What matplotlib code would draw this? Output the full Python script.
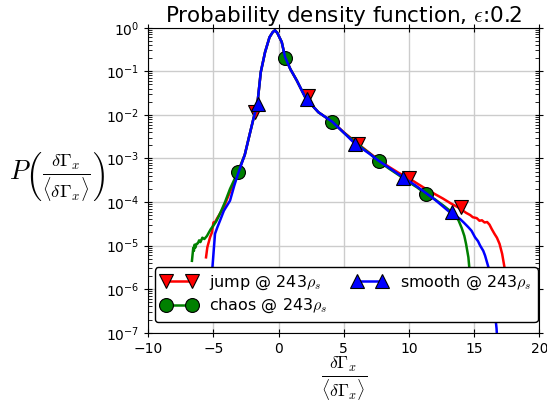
import numpy as np
import matplotlib
matplotlib.use("Agg")
import matplotlib.pyplot as plt
from matplotlib.lines import Line2D

plt.rcParams['mathtext.fontset'] = 'cm'
plt.rcParams['font.family'] = ['DejaVu Sans']

# ---- data (x, log10 of PDF) ----
jump_x = [-5.57, -5.47, -5.26, -5.12, -5.0, -4.85, -4.71, -4.4, -4.15, -3.94, -3.5, -3.1, -2.6, -2.2,
          -1.9, -1.63, -1.37, -1.04, -0.7, -0.45, -0.28, -0.1, 0.24, 0.49, 0.9, 1.39, 2.08, 3.05,
          4.12, 5.0, 6.1, 7.0, 7.7, 8.5, 9.2, 9.97, 10.6, 11.3, 12.0, 12.6, 13.2, 13.75, 14.1,
          14.39, 14.7, 14.9, 15.2, 15.41, 15.6, 15.8, 16.0, 16.18, 16.35, 16.56, 16.75, 16.95,
          17.15, 17.33, 17.42]
jump_log = [-5.27, -5.04, -4.81, -4.70, -4.47, -4.45, -4.37, -4.22, -4.08, -3.92, -3.60, -3.31,
            -2.92, -2.42, -2.05, -1.75, -1.02, -0.56, -0.22, -0.10, -0.06, -0.12, -0.33, -0.67,
            -0.95, -1.21, -1.62, -1.94, -2.16, -2.40, -2.67, -2.88, -3.04, -3.20, -3.33, -3.45,
            -3.57, -3.70, -3.82, -3.92, -4.03, -4.12, -4.19, -4.25, -4.30, -4.35, -4.37, -4.43,
            -4.42, -4.47, -4.46, -4.52, -4.62, -4.73, -4.82, -4.96, -5.19, -5.50, -5.75]
jump_mx = [-1.8, 2.24, 6.10, 9.97, 13.96]
jump_mlog = [-1.93, -1.56, -2.68, -3.45, -4.12]

chaos_x = [-6.65, -6.6, -6.55, -6.5, -6.45, -6.4, -6.3, -6.2, -6.1, -6.0, -5.85, -5.7, -5.5,
           -5.39, -5.2, -5.0, -4.8, -4.63, -4.4, -4.11, -3.73, -3.17, -2.6, -2.2, -1.9, -1.63,
           -1.37, -1.04, -0.7, -0.45, -0.28, -0.1, 0.24, 0.49, 0.9, 1.39, 2.08, 3.05, 4.12, 5.0,
           6.0, 7.0, 7.7, 8.5, 9.2, 9.9, 10.6, 11.28, 12.0, 12.63, 13.1, 13.53, 13.8, 14.05,
           14.25, 14.38, 14.56, 14.64, 14.7]
chaos_log = [-5.35, -5.20, -5.05, -5.12, -4.98, -5.05, -4.96, -4.95, -4.88, -4.92, -4.82, -4.85,
             -4.78, -4.72, -4.62, -4.54, -4.45, -4.35, -4.20, -4.00, -3.70, -3.34, -2.92, -2.42,
             -2.05, -1.75, -1.02, -0.56, -0.22, -0.10, -0.06, -0.12, -0.33, -0.67, -0.95, -1.21,
             -1.62, -1.94, -2.16, -2.41, -2.66, -2.89, -3.07, -3.24, -3.38, -3.53, -3.66, -3.81,
             -3.94, -4.08, -4.19, -4.31, -4.42, -4.60, -4.78, -4.96, -5.27, -5.54, -5.65]
chaos_mx = [-3.09, 0.51, 4.12, 7.70, 11.28]
chaos_mlog = [-3.31, -0.69, -2.16, -3.07, -3.81]

smooth_x = [-5.1, -5.09, -5.0, -4.88, -4.7, -4.5, -4.2, -3.73, -3.4, -3.1, -2.6, -2.2, -1.9,
            -1.63, -1.37, -1.04, -0.7, -0.45, -0.28, -0.1, 0.24, 0.49, 0.9, 1.39, 2.08, 3.05,
            4.12, 5.0, 5.85, 7.0, 7.7, 8.5, 9.58, 10.5, 11.28, 12.0, 12.6, 13.15, 13.5, 13.92,
            14.2, 14.56, 14.8, 15.07, 15.3, 15.46, 15.7, 15.84, 16.1, 16.3, 16.5, 16.65, 16.72,
            16.74]
smooth_log = [-5.88, -5.54, -5.19, -4.73, -4.58, -4.43, -4.20, -3.97, -3.62, -3.34, -2.92, -2.42,
              -2.05, -1.75, -1.02, -0.56, -0.22, -0.10, -0.06, -0.12, -0.33, -0.67, -0.95, -1.21,
              -1.62, -1.94, -2.16, -2.41, -2.66, -2.90, -3.06, -3.22, -3.44, -3.62, -3.79, -3.95,
              -4.10, -4.24, -4.30, -4.39, -4.47, -4.58, -4.66, -4.81, -4.90, -5.00, -5.12, -5.23,
              -5.50, -5.90, -6.30, -6.70, -6.90, -7.00]
smooth_mx = [-1.57, 2.16, 5.85, 9.58, 13.32]
smooth_mlog = [-1.76, -1.64, -2.67, -3.44, -4.23]

labels = ['jump @ 243$\\rho_s$', 'chaos @ 243$\\rho_s$', 'smooth @ 243$\\rho_s$']
colors = ['#ff0000', '#008000', '#0000ff']
markers = ['v', 'o', '^']

fig = plt.figure(figsize=(5.47, 4.05), dpi=100)
ax = fig.add_axes([0.2711, 0.1785, 0.7148, 0.7531])

series = [(jump_x, jump_log, jump_mx, jump_mlog),
          (chaos_x, chaos_log, chaos_mx, chaos_mlog),
          (smooth_x, smooth_log, smooth_mx, smooth_mlog)]
handles = []
for (x, ly, mx, mly), c, m, lab in zip(series, colors, markers, labels):
    ax.plot(x, 10 ** np.array(ly), '-', color=c, lw=1.8)
    ax.plot(mx, 10 ** np.array(mly), ls='none', marker=m, ms=10, mfc=c, mec='k', mew=0.8)
    handles.append(Line2D([], [], color=c, lw=1.8, marker=m, ms=10, mfc=c, mec='k', mew=0.8, label=lab))

ax.set_yscale('log')
ax.set_xlim(-10, 20)
ax.set_ylim(1e-7, 1)
ax.grid(True, which='major', color='#cccccc', lw=1)
ax.set_axisbelow(True)
ax.tick_params(which='major', direction='inout', length=6, top=True, right=True, labelsize=10)
ax.tick_params(which='minor', direction='in', length=3, top=True, right=True)

ax.set_title('Probability density function, $\\epsilon$:0.2', fontsize=15.5, pad=4)
ax.set_ylabel('$P\\left(\\frac{\\delta\\Gamma_x}{\\langle\\delta\\Gamma_x\\rangle}\\right)$',
              rotation=0, fontsize=19, ha='center', va='center')
ax.yaxis.set_label_coords(-0.233, 0.51)
ax.set_xlabel('$\\frac{\\delta\\Gamma_x}{\\langle\\delta\\Gamma_x\\rangle}$', fontsize=18, va='center')
ax.xaxis.set_label_coords(0.5, -0.15)

leg = ax.legend(handles=handles, loc='lower right', bbox_to_anchor=(0.9957, 0.036),
                ncol=2, numpoints=2, fontsize=11.5, framealpha=1, edgecolor='k', fancybox=True,
                handlelength=2.2, columnspacing=1.5, borderaxespad=0, labelspacing=0.3)
leg.get_frame().set_linewidth(1)

fig.savefig('out.png', dpi=100)
